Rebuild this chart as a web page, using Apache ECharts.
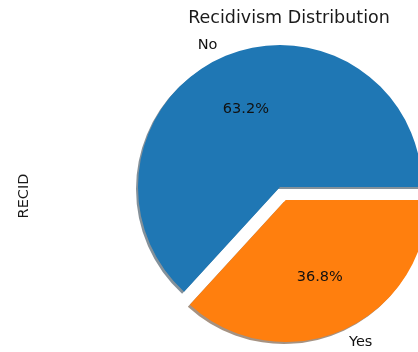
<!DOCTYPE html>
<html>
<head>
<meta charset="utf-8">
<script src="https://cdn.jsdelivr.net/npm/echarts@6/dist/echarts.min.js"></script>
<style>
html, body { margin: 0; padding: 0; background: #fff; }
#chart { width: 418px; height: 352px; }
</style>
</head>
<body>
<div id="chart"></div>
<script>
var categories = ['No', 'Yes'];
var values = [63.2, 36.8];
var exploded = [false, true];
var colors = ['#1f77b4', '#ff7f0e'];
var shadowColors = ['rgba(9,36,54,0.5)', 'rgba(77,38,4,0.5)'];

var FONT = 'DejaVu Sans';
var R = 142;            // pie radius in px
var CX = 280, CY = 187; // pie centre
var EXPLODE = 0.1 * R;

function pieData (colorList, extra) {
  return categories.map(function (name, i) {
    var item = {
      name: name,
      value: values[i],
      selected: exploded[i],
      itemStyle: { color: colorList[i] }
    }
    if (extra) Object.assign(item, extra(i))
    return item
  })
}

function basePie () {
  return {
    type: 'pie',
    startAngle: 0,
    clockwise: false,
    selectedMode: 'multiple',
    selectedOffset: EXPLODE,
    avoidLabelOverlap: false,
    silent: true,
    animation: false,
    emphasis: { disabled: true, scale: false },
    itemStyle: { borderWidth: 0 },
    labelLine: { show: false }
  }
}

var transparent = ['rgba(0,0,0,0)', 'rgba(0,0,0,0)'];

var chart = echarts.init(document.getElementById('chart'));
chart.setOption({
  animation: false,
  title: {
    text: 'Recidivism Distribution',
    left: 284,
    top: 4,
    textAlign: 'center',
    textStyle: { fontFamily: FONT, fontSize: 17.5, fontWeight: 'normal', color: '#1a1a1a' }
  },
  graphic: [{
    type: 'text',
    x: 24,
    y: 196,
    rotation: Math.PI / 2,
    style: {
      text: 'RECID',
      align: 'center',
      verticalAlign: 'middle',
      font: '14.5px "DejaVu Sans"',
      fill: '#1a1a1a'
    }
  }],
  series: [
    // shadow
    Object.assign(basePie(), {
      center: [CX - 2, CY + 2],
      radius: [0, R],
      z: 1,
      label: { show: false },
      data: pieData(shadowColors)
    }),
    // wedges
    Object.assign(basePie(), {
      center: [CX, CY],
      radius: [0, R],
      z: 2,
      label: { show: false },
      data: pieData(colors)
    }),
    // percentage labels
    Object.assign(basePie(), {
      center: [CX, CY],
      radius: [0, 1.15 * R],
      z: 3,
      label: {
        show: true,
        position: 'inside',
        fontFamily: FONT,
        fontSize: 14.5,
        color: '#111',
        textBorderWidth: 0,
        formatter: function (p) { return p.value.toFixed(1) + '%' }
      },
      data: pieData(transparent)
    }),
    // category labels
    Object.assign(basePie(), {
      center: [CX, CY],
      radius: [0, 2.14 * R],
      z: 3,
      label: {
        show: true,
        position: 'inside',
        fontFamily: FONT,
        fontSize: 14.5,
        color: '#111',
        textBorderWidth: 0,
        formatter: '{b}'
      },
      data: pieData(transparent, function (i) {
        return { label: { padding: i === 0 ? [0, 20, 0, 0] : [0, 0, 0, 25] } }
      })
    })
  ]
});
</script>
</body>
</html>
